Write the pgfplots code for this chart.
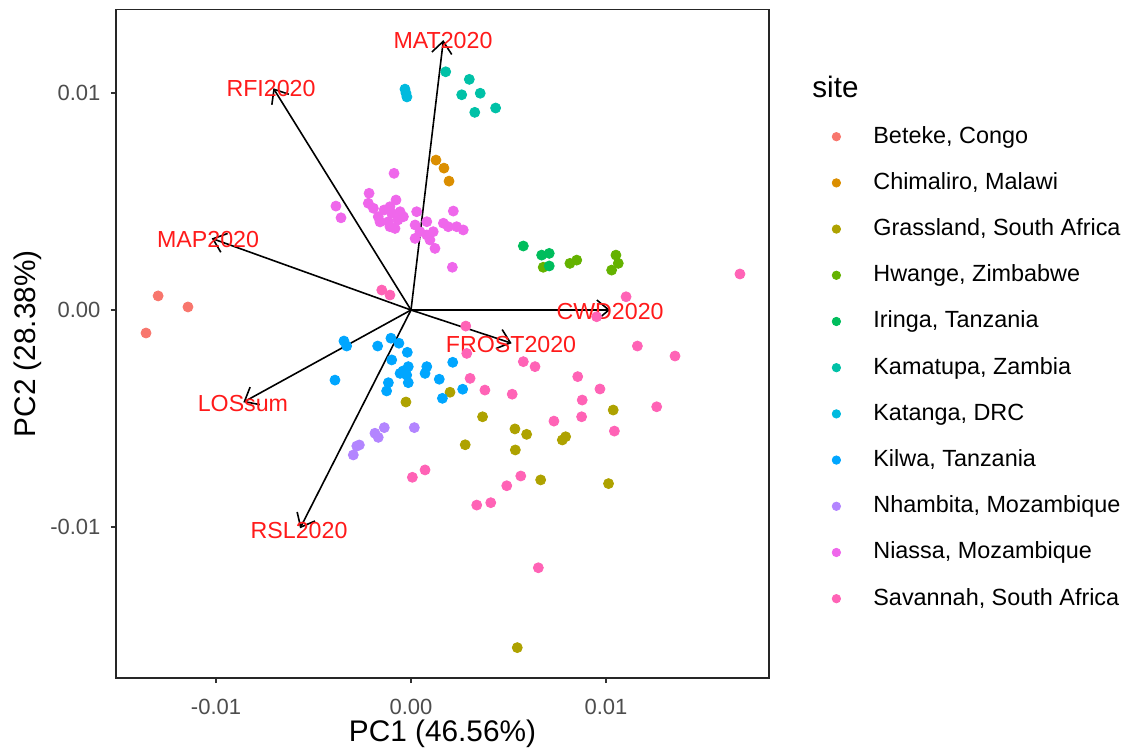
\documentclass[border=0pt]{standalone}
\usepackage{pgfplots}
\pgfplotsset{compat=1.18}
\usepackage{fontspec}
\setmainfont{Liberation Sans}
\usetikzlibrary{arrows.meta}

% ggplot2 default hue palette for 11 groups
\definecolor{cBeteke}{HTML}{F8766D}
\definecolor{cChimaliro}{HTML}{DB8E00}
\definecolor{cGrassland}{HTML}{AEA200}
\definecolor{cHwange}{HTML}{64B200}
\definecolor{cIringa}{HTML}{00BD5C}
\definecolor{cKamatupa}{HTML}{00C1A7}
\definecolor{cKatanga}{HTML}{00BADE}
\definecolor{cKilwa}{HTML}{00A6FF}
\definecolor{cNhambita}{HTML}{B385FF}
\definecolor{cNiassa}{HTML}{EF67EB}
\definecolor{cSavannah}{HTML}{FF63B6}
\definecolor{tickgray}{HTML}{4D4D4D}
\definecolor{loadred}{HTML}{FF1A1A}

\pgfplotsset{
  site/.style={only marks, mark=*, mark size=2.5pt, draw=#1, fill=#1},
  loading/.style={black, line width=0.8pt,
    -{Straight Barb[length=6pt,width=10pt,line width=0.8pt]}, forget plot},
}

\begin{document}
\begin{tikzpicture}
\useasboundingbox (-58pt,-36.5pt) rectangle (507.5pt,339pt);
\begin{axis}[
  at={(0,0)}, anchor=south west,
  scale only axis,
  width=326.5pt, height=334.25pt,
  xmin=-0.01513, xmax=0.01836,
  ymin=-0.01696, ymax=0.01385,
  scaled ticks=false,
  xtick={-0.01,0,0.01}, xticklabels={-0.01,0.00,0.01},
  ytick={-0.01,0,0.01}, yticklabels={-0.01,0.00,0.01},
  xtick pos=bottom, ytick pos=left,
  tick align=outside,
  major tick length=2.6pt,
  tick style={black!80, line width=0.6pt},
  axis line style={black!85, line width=0.9pt},
  xticklabel style={anchor=center, inner sep=0pt, yshift=-12pt,
    text=tickgray, font=\fontsize{11}{13}\selectfont},
  yticklabel style={anchor=east, inner sep=0pt, xshift=-5pt,
    text=tickgray, font=\fontsize{11}{13}\selectfont},
  xlabel={PC1 (46.56\%)},
  ylabel={PC2 (28.38\%)},
  xlabel style={at={(axis description cs:0.5,-0.083)}, anchor=center,
    font=\fontsize{14.9}{17.9}\selectfont},
  ylabel style={at={(axis description cs:-0.1348,0.5)}, anchor=center,
    font=\fontsize{14.9}{17.9}\selectfont},
  clip=false,
  legend cell align=left,
  legend image code/.code={
    \path[draw=none, fill=none] (-3pt,0pt) -- (18.5pt,0pt);
    \path[#1, draw=none, mark size=2.1pt] plot coordinates {(0pt,0pt)};
  },
  legend style={
    at={(1.0934,0.8265)}, anchor=north west,
    draw=none, fill=none, inner sep=0pt,
    row sep=12.3pt,
    font=\fontsize{11.7}{14}\selectfont,
    nodes={inner sep=0pt, text height=8.6pt, text depth=2.2pt},
  },
]

\addplot[site=cBeteke] coordinates {
  (-0.01359,-0.00106) (-0.01297,0.00065) (-0.01144,0.00014)};
\addlegendentry{Beteke, Congo}

\addplot[site=cChimaliro] coordinates {
  (0.00128,0.00691) (0.00169,0.00654) (0.00195,0.00594)};
\addlegendentry{Chimaliro, Malawi}

\addplot[site=cGrassland] coordinates {
  (-0.00026,-0.00424) (0.00200,-0.00379) (0.00367,-0.00492) (0.00278,-0.00621)
  (0.00533,-0.00548) (0.00593,-0.00573) (0.00535,-0.00645) (0.00665,-0.00783)
  (0.00776,-0.00599) (0.00793,-0.00584) (0.01037,-0.00461) (0.01013,-0.00800)
  (0.00545,-0.01556)};
\addlegendentry{Grassland, South Africa}

\addplot[site=cHwange] coordinates {
  (0.00678,0.00197) (0.00815,0.00215) (0.00850,0.00230) (0.01051,0.00253)
  (0.01063,0.00215) (0.01029,0.00184)};
\addlegendentry{Hwange, Zimbabwe}

\addplot[site=cIringa] coordinates {
  (0.00576,0.00295) (0.00670,0.00253) (0.00709,0.00261) (0.00709,0.00203)};
\addlegendentry{Iringa, Tanzania}

\addplot[site=cKamatupa] coordinates {
  (0.00178,0.01098) (0.00299,0.01063) (0.00260,0.00992) (0.00355,0.00999)
  (0.00327,0.00911) (0.00434,0.00931)};
\addlegendentry{Kamatupa, Zambia}

\addplot[site=cKatanga] coordinates {
  (-0.00031,0.01018) (-0.00026,0.01000) (-0.00021,0.00982)};
\addlegendentry{Katanga, DRC}

\addplot[site=cKilwa] coordinates {
  (-0.00344,-0.00143) (-0.00330,-0.00166) (-0.00390,-0.00323) (-0.00171,-0.00166)
  (-0.00103,-0.00130) (-0.00062,-0.00153) (-0.00019,-0.00195) (-0.00099,-0.00230)
  (-0.00014,-0.00261) (-0.00056,-0.00292) (-0.00022,-0.00300) (-0.00014,-0.00335)
  (-0.00116,-0.00335) (-0.00125,-0.00373) (0.00081,-0.00261) (0.00072,-0.00292)
  (0.00145,-0.00319) (0.00214,-0.00241) (0.00265,-0.00365) (0.00161,-0.00407)
  (-0.00041,-0.00281)};
\addlegendentry{Kilwa, Tanzania}

\addplot[site=cNhambita] coordinates {
  (-0.00137,-0.00542) (-0.00185,-0.00568) (-0.00168,-0.00587) (-0.00265,-0.00622)
  (-0.00278,-0.00627) (-0.00296,-0.00668) (0.00017,-0.00542)};
\addlegendentry{Nhambita, Mozambique}

\addplot[site=cNiassa] coordinates {
  (-0.00087,0.00630) (-0.00215,0.00538) (-0.00385,0.00479) (-0.00359,0.00425)
  (-0.00219,0.00492) (-0.00193,0.00469) (-0.00168,0.00430) (-0.00108,0.00476)
  (-0.00077,0.00507) (-0.00099,0.00446) (-0.00056,0.00453) (-0.00039,0.00430)
  (-0.00116,0.00407) (-0.00082,0.00376) (-0.00108,0.00384) (0.00029,0.00453)
  (0.00021,0.00392) (0.00081,0.00407) (0.00046,0.00361) (0.00021,0.00330)
  (0.00081,0.00346) (0.00097,0.00323) (0.00123,0.00284) (0.00114,0.00361)
  (0.00166,0.00400) (0.00191,0.00384) (0.00234,0.00384) (0.00268,0.00369)
  (0.00217,0.00456) (0.00212,0.00197) (-0.00138,0.00461) (-0.00067,0.00415)
  (-0.00159,0.00406)};
\addlegendentry{Niassa, Mozambique}

\addplot[site=cSavannah] coordinates {
  (-0.00150,0.00092) (-0.00108,0.00069) (0.00281,-0.00074) (0.00286,-0.00200)
  (0.00576,-0.00238) (0.00636,-0.00261) (0.00303,-0.00315) (0.00379,-0.00369)
  (0.00519,-0.00388) (0.00855,-0.00307) (0.00969,-0.00364) (0.00878,-0.00415)
  (0.00875,-0.00492) (0.00733,-0.00512) (0.01043,-0.00558) (0.01161,-0.00166)
  (0.01354,-0.00212) (0.01260,-0.00446) (0.00563,-0.00765) (0.00491,-0.00810)
  (0.00409,-0.00888) (0.00337,-0.00899) (0.00007,-0.00771) (0.00072,-0.00737)
  (0.00653,-0.01188) (0.01687,0.00166) (0.01103,0.00061) (0.00952,-0.00031)};
\addlegendentry{Savannah, South Africa}

% variable loadings
\addplot[loading] coordinates {(0,0) (0.00166,0.01244)};
\addplot[loading] coordinates {(0,0) (-0.00706,0.01022)};
\addplot[loading] coordinates {(0,0) (-0.01022,0.00330)};
\addplot[loading] coordinates {(0,0) (-0.00860,-0.00425)};
\addplot[loading] coordinates {(0,0) (-0.00569,-0.01006)};
\addplot[loading] coordinates {(0,0) (0.01021,0)};
\addplot[loading] coordinates {(0,0) (0.00516,-0.00153)};

\begin{scope}[every node/.style={text=loadred, anchor=center, inner sep=0pt,
    font=\fontsize{11.6}{13.9}\selectfont}]
\node at (axis cs:0.00164,0.01240) {MAT2020};
\node at (axis cs:-0.00718,0.01023) {RFI2020};
\node at (axis cs:-0.01041,0.00327) {MAP2020};
\node at (axis cs:-0.00862,-0.00433) {LOSsum};
\node at (axis cs:-0.00574,-0.01014) {RSL2020};
\node at (axis cs:0.01021,-0.00009) {CWD2020};
\node at (axis cs:0.00513,-0.00161) {FROST2020};
\end{scope}

\node[anchor=base west, inner sep=0pt, font=\fontsize{14.8}{17.8}\selectfont]
  at (axis description cs:1.0659,0.869) {site};
\end{axis}
\end{tikzpicture}
\end{document}
